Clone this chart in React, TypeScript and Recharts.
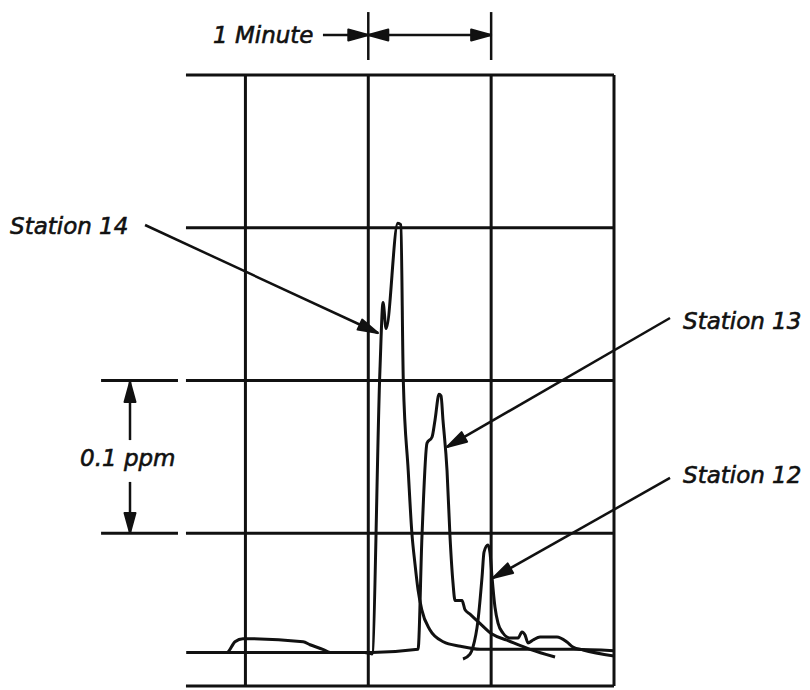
import React from "react";
import { LineChart, Line, XAxis, YAxis, ReferenceLine } from "recharts";

// ---- data (time in minutes, concentration in ppm) ----
const station14Minutes = [0.02, 0.55, 1.0, 1.47, 1.53, 1.595, 1.62, 1.645, 1.74, 1.765, 1.785, 1.825, 1.855, 1.88, 1.905, 1.935, 2.0, 2.11, 2.25, 2.41, 2.65, 3.17, 3.5];
const station14Ppm = [0.022, 0.022, 0.022, 0.022, 0.021, 0.207, 0.251, 0.234, 0.303, 0.302, 0.2, 0.141, 0.1, 0.08, 0.063, 0.05, 0.037, 0.029, 0.026, 0.024, 0.024, 0.024, 0.023];

const station13Minutes = [0.02, 0.35, 0.415, 0.48, 0.97, 1.026, 1.13, 1.19, 1.53, 1.905, 1.937, 1.978, 2.019, 2.043, 2.076, 2.092, 2.108, 2.141, 2.165, 2.19, 2.206, 2.263, 2.287, 2.328, 2.409, 2.507, 2.629, 2.816, 3.02];
const station13Ppm = [0.022, 0.022, 0.029, 0.031, 0.029, 0.027, 0.024, 0.022, 0.022, 0.024, 0.098, 0.159, 0.163, 0.174, 0.191, 0.19, 0.174, 0.141, 0.098, 0.067, 0.056, 0.056, 0.05, 0.047, 0.041, 0.034, 0.03, 0.024, 0.019];

const station12Minutes = [2.271, 2.328, 2.352, 2.393, 2.426, 2.442, 2.474, 2.491, 2.507, 2.531, 2.556, 2.596, 2.653, 2.719, 2.751, 2.776, 2.8, 2.841, 2.898, 3.036, 3.117, 3.166, 3.248, 3.5];
const station12Ppm = [0.0177, 0.0209, 0.0255, 0.043, 0.0714, 0.0877, 0.0923, 0.0871, 0.0714, 0.0517, 0.0412, 0.0347, 0.0314, 0.0314, 0.0354, 0.0334, 0.0282, 0.0301, 0.0321, 0.0321, 0.0288, 0.0255, 0.0236, 0.0196];

const gridMinutes = [0.5, 1.5, 2.5, 3.5];
const gridPpm = [0, 0.1, 0.2, 0.3, 0.4];
const seriesNames = ["Station 14", "Station 13", "Station 12"];
const timeLabel = "1 Minute";
const scaleLabel = "0.1 ppm";

const zip = (xs: number[], ys: number[]) => xs.map((x, i) => ({ x, y: ys[i] }));
const station14 = zip(station14Minutes, station14Ppm);
const station13 = zip(station13Minutes, station13Ppm);
const station12 = zip(station12Minutes, station12Ppm);

// ---- styling ----
const INK = "#111";
const FONT = { fontFamily: "DejaVu Sans", fontStyle: "italic", fontSize: 23, fill: INK, stroke: INK, strokeWidth: 0.6 } as const;

const arrowShape = (startHead: boolean, endHead: boolean, width = 2.5) => (p: any) => {
  const { x1, y1, x2, y2 } = p;
  const dx = x2 - x1, dy = y2 - y1;
  const len = Math.hypot(dx, dy) || 1;
  const ux = dx / len, uy = dy / len;
  const nx = -uy, ny = ux;
  const L = 20, W = 5.5;
  const head = (tx: number, ty: number, dirx: number, diry: number) => {
    const bx = tx - dirx * L, by = ty - diry * L;
    return `${tx},${ty} ${bx + nx * W},${by + ny * W} ${bx - nx * W},${by - ny * W}`;
  };
  return (
    <g>
      <line x1={x1} y1={y1} x2={x2} y2={y2} stroke={INK} strokeWidth={width} />
      {endHead && <polygon points={head(x2, y2, ux, uy)} fill={INK} stroke={INK} strokeWidth={2} strokeLinejoin="round" />}
      {startHead && <polygon points={head(x1, y1, -ux, -uy)} fill={INK} stroke={INK} strokeWidth={2} strokeLinejoin="round" />}
    </g>
  );
};

const textShape = (label: string) => (p: any) => (
  <text x={p.x1} y={p.y1} textAnchor="start" {...FONT}>{label}</text>
);

// annotation anchors in data units (minutes, ppm)
const labelAnchors = [
  { text: timeLabel, x: 0.236, y: 0.421 },
  { text: seriesNames[0], x: -1.416, y: 0.2959 },
  { text: seriesNames[1], x: 4.062, y: 0.2337 },
  { text: seriesNames[2], x: 4.062, y: 0.1329 },
  { text: scaleLabel, x: -0.8465, y: 0.144 },
];

const arrows = [
  { from: [1.131, 0.4262], to: [1.5, 0.4262], s: false, e: true },
  { from: [1.5, 0.4262], to: [2.5, 0.4262], s: true, e: true },
  { from: [-0.317, 0.3018], to: [1.579, 0.2311], s: false, e: true },
  { from: [3.956, 0.2409], to: [2.141, 0.1565], s: false, e: true },
  { from: [3.956, 0.1362], to: [2.515, 0.0707], s: false, e: true },
  { from: [-0.4395, 0.161], to: [-0.4395, 0.199], s: false, e: true },
  { from: [-0.4395, 0.1336], to: [-0.4395, 0.1002], s: false, e: true },
];

const minuteTicks = [1.5, 2.5];

export default function App() {
  return (
    <div style={{ position: "absolute", left: 0, top: 0, width: 810, height: 690, background: "#fff" }}>
      <LineChart width={810} height={690} margin={{ top: 75, right: 196, bottom: 4, left: 184 }}>
        <XAxis type="number" dataKey="x" domain={[0, 3.5]} allowDataOverflow hide />
        <YAxis type="number" dataKey="y" domain={[0, 0.4]} allowDataOverflow hide />

        {gridPpm.map((v) => (
          <ReferenceLine key={`h${v}`} segment={[{ x: 0.016, y: v }, { x: 3.5, y: v }]} stroke={INK} strokeWidth={3} ifOverflow="visible" />
        ))}
        {gridMinutes.map((v) => (
          <ReferenceLine key={`v${v}`} segment={[{ x: v, y: 0 }, { x: v, y: 0.4 }]} stroke={INK} strokeWidth={3} ifOverflow="visible" />
        ))}
        {[0.1, 0.2].map((v) => (
          <ReferenceLine key={`e${v}`} segment={[{ x: -0.675, y: v }, { x: -0.049, y: v }]} stroke={INK} strokeWidth={3} ifOverflow="visible" />
        ))}
        {minuteTicks.map((v) => (
          <ReferenceLine key={`t${v}`} segment={[{ x: v, y: 0.4098 }, { x: v, y: 0.4412 }]} stroke={INK} strokeWidth={2.5} ifOverflow="visible" />
        ))}
        {arrows.map((a, i) => (
          <ReferenceLine
            key={`a${i}`}
            segment={[{ x: a.from[0], y: a.from[1] }, { x: a.to[0], y: a.to[1] }]}
            ifOverflow="visible"
            shape={arrowShape(a.s, a.e)}
          />
        ))}
        {labelAnchors.map((l, i) => (
          <ReferenceLine
            key={`l${i}`}
            segment={[{ x: l.x, y: l.y }, { x: l.x + 0.001, y: l.y }]}
            ifOverflow="visible"
            shape={textShape(l.text)}
          />
        ))}

        <Line data={station14} dataKey="y" name={seriesNames[0]} type="monotoneX" stroke={INK} strokeWidth={3} dot={false} activeDot={false} isAnimationActive={false} strokeLinejoin="round" />
        <Line data={station13} dataKey="y" name={seriesNames[1]} type="monotoneX" stroke={INK} strokeWidth={3} dot={false} activeDot={false} isAnimationActive={false} strokeLinejoin="round" />
        <Line data={station12} dataKey="y" name={seriesNames[2]} type="monotoneX" stroke={INK} strokeWidth={3} dot={false} activeDot={false} isAnimationActive={false} strokeLinejoin="round" />
      </LineChart>
    </div>
  );
}
